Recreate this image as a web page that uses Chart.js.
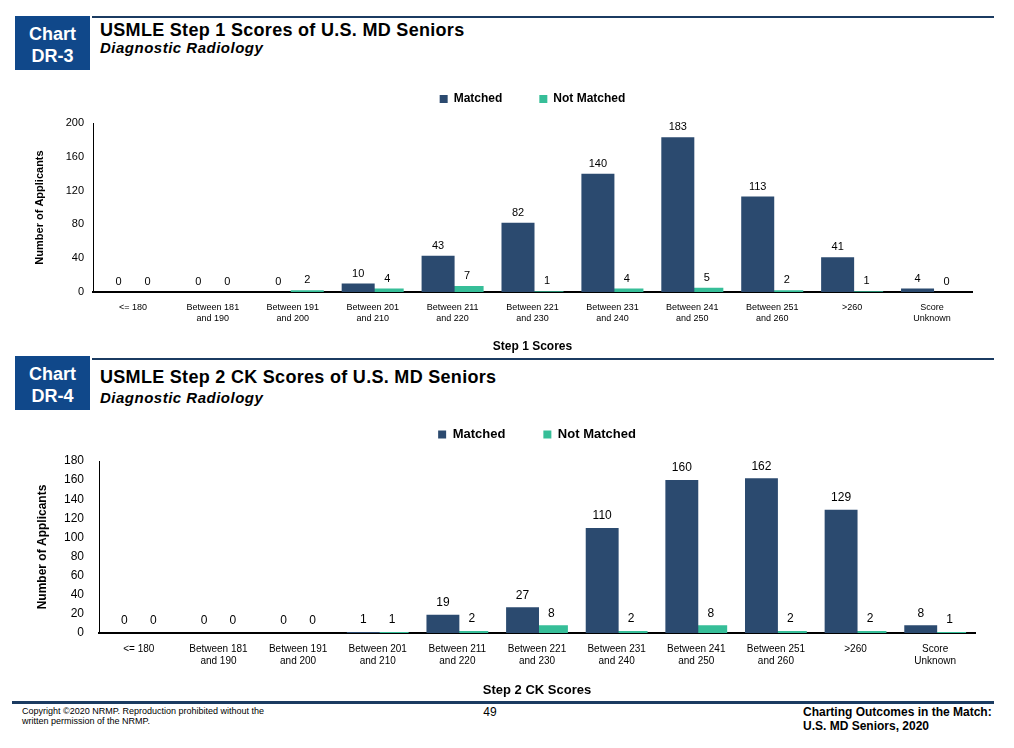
<!DOCTYPE html>
<html>
<head>
<meta charset="utf-8">
<script src="https://cdn.jsdelivr.net/npm/chart.js@4.4.1/dist/chart.umd.min.js"></script>
<style>
  html, body { margin: 0; padding: 0; background: #fff; }
  body { width: 1014px; height: 748px; overflow: hidden; position: relative;
         font-family: "Liberation Sans", Arial, Helvetica, sans-serif; color: #000; }
  .abs { position: absolute; }
  .box { background: #10488A; color: #fff; font-weight: bold; font-size: 18px; line-height: 21.6px;
         text-align: center; width: 75px; height: 54px; box-sizing: border-box; padding-top: 8px; }
  .rule { background: #1B3B61; }
  .title { font-weight: bold; font-size: 18px; line-height: 20px; letter-spacing: 0.3px; white-space: nowrap; }
  .sub { font-weight: bold; font-style: italic; font-size: 15px; line-height: 18px; letter-spacing: 0.5px; white-space: nowrap; }
  .foot { font-size: 9px; line-height: 10px; white-space: nowrap; }
  .footr { font-size: 12px; font-weight: bold; line-height: 14px; white-space: nowrap; }
  .chartwrap { position: absolute; left: 0; width: 1014px; }
</style>
</head>
<body>

<!-- Header 1 -->
<div class="abs box" style="left:15px; top:16px;">Chart<br>DR-3</div>
<div class="abs rule" style="left:92px; top:16px; width:902px; height:2px;"></div>
<div class="abs title" style="left:100px; top:20px;">USMLE Step 1 Scores of U.S. MD Seniors</div>
<div class="abs sub" style="left:100px; top:39px;">Diagnostic Radiology</div>

<div class="chartwrap" style="top:56px; height:299px;"><canvas id="c1"></canvas></div>

<!-- Header 2 -->
<div class="abs box" style="left:15px; top:356px;">Chart<br>DR-4</div>
<div class="abs rule" style="left:92px; top:358px; width:902px; height:2px;"></div>
<div class="abs title" style="left:100px; top:367px;">USMLE Step 2 CK Scores of U.S. MD Seniors</div>
<div class="abs sub" style="left:100px; top:389px;">Diagnostic Radiology</div>

<div class="chartwrap" style="top:390px; height:308px;"><canvas id="c2"></canvas></div>

<!-- Footer -->
<div class="abs rule" style="left:12px; top:701px; width:982px; height:3px;"></div>
<div class="abs foot" style="left:22px; top:706px;">Copyright ©2020 NRMP. Reproduction prohibited without the</div>
<div class="abs foot" style="left:22px; top:716px;">written permission of the NRMP.</div>
<div class="abs" style="left:478px; top:705px; width:24px; text-align:center; font-size:12px; line-height:14px;">49</div>
<div class="abs footr" style="left:803px; top:705px;">Charting Outcomes in the Match:</div>
<div class="abs footr" style="left:803px; top:719px;">U.S. MD Seniors, 2020</div>

<script>
// ---------------- DATA ----------------
const scoreCategories = [
  '<= 180',
  ['Between 181', 'and 190'],
  ['Between 191', 'and 200'],
  ['Between 201', 'and 210'],
  ['Between 211', 'and 220'],
  ['Between 221', 'and 230'],
  ['Between 231', 'and 240'],
  ['Between 241', 'and 250'],
  ['Between 251', 'and 260'],
  '>260',
  ['Score', 'Unknown']
];
const seriesNames = ['Matched', 'Not Matched'];

const step1Matched    = [0, 0, 0, 10, 43, 82, 140, 183, 113, 41, 4];
const step1NotMatched = [0, 0, 2, 4, 7, 1, 4, 5, 2, 1, 0];
const step1AxisMax = 200;
const step1AxisStep = 40;

const step2Matched    = [0, 0, 0, 1, 19, 27, 110, 160, 162, 129, 8];
const step2NotMatched = [0, 0, 0, 1, 2, 8, 2, 8, 2, 2, 1];
const step2AxisMax = 180;
const step2AxisStep = 20;

const step1XTitle = 'Step 1 Scores';
const step2XTitle = 'Step 2 CK Scores';
const yTitle = 'Number of Applicants';

// ---------------- STYLE ----------------
const COLOR_MATCHED = '#2B4A6F';
const COLOR_NOT = '#36BE98';
const FONT = '"Liberation Sans", Arial, Helvetica, sans-serif';

Chart.defaults.font.family = FONT;
Chart.defaults.color = '#000';

const valueLabels = {
  id: 'valueLabels',
  afterDatasetsDraw(chart, args, opts) {
    const ctx = chart.ctx;
    ctx.save();
    ctx.font = opts.size + 'px ' + FONT;
    ctx.fillStyle = '#000';
    ctx.textAlign = 'center';
    ctx.textBaseline = 'middle';
    chart.data.datasets.forEach((ds, i) => {
      const meta = chart.getDatasetMeta(i);
      meta.data.forEach((bar, j) => {
        ctx.fillText(String(ds.data[j]), bar.x, bar.y - opts.offset);
      });
    });
    ctx.restore();
  }
};

function makeChart(id, cfg) {
  return new Chart(document.getElementById(id), {
    type: 'bar',
    data: {
      labels: scoreCategories,
      datasets: [
        { label: seriesNames[0], data: cfg.matched, backgroundColor: COLOR_MATCHED, borderWidth: 0,
          categoryPercentage: 0.726, barPercentage: 1.138 },
        { label: seriesNames[1], data: cfg.notMatched, backgroundColor: COLOR_NOT, borderWidth: 0,
          categoryPercentage: 0.726, barPercentage: 1.138 }
      ]
    },
    plugins: [valueLabels],
    options: {
      responsive: true,
      maintainAspectRatio: false,
      animation: false,
      events: [],
      layout: { padding: { left: 0, right: cfg.padRight, top: 0, bottom: 0 } },
      plugins: {
        legend: {
          position: 'top',
          fullSize: false,
          weight: 1000,
          labels: {
            boxWidth: 8, boxHeight: 8,
            padding: cfg.legendPad,
            color: '#000',
            font: { size: cfg.legendSize, weight: 'bold' }
          }
        },
        title: {
          display: true, text: '', weight: 100, padding: 0,
          font: { size: cfg.spacer, lineHeight: 1 }
        },
        tooltip: { enabled: false },
        valueLabels: { size: cfg.valueSize, offset: cfg.valueOffset }
      },
      scales: {
        x: {
          grid: { display: false, drawTicks: false },
          border: { display: true, color: '#000', width: 2 },
          ticks: { autoSkip: false, maxRotation: 0, minRotation: 0, padding: 10,
                   color: '#000', font: { size: cfg.xTickSize } },
          title: { display: true, text: cfg.xTitle, color: '#000',
                   font: { size: cfg.xTitleSize, weight: 'bold' },
                   padding: { top: 0, bottom: cfg.xTitlePadB } },
          afterFit: s => { s.height = cfg.xHeight; }
        },
        y: {
          min: 0, max: cfg.max,
          grid: { display: false, drawTicks: false },
          border: { display: true, color: '#000', width: 1 },
          ticks: { stepSize: cfg.step, padding: cfg.yTickPad, color: '#000',
                   font: { size: cfg.yTickSize } },
          title: { display: true, text: yTitle, color: '#000',
                   font: { size: cfg.yTitleSize, weight: 'bold' },
                   padding: { top: cfg.yTitlePadT, bottom: 0 } },
          afterFit: s => { s.width = cfg.yWidth; }
        }
      }
    }
  });
}

makeChart('c1', {
  matched: step1Matched, notMatched: step1NotMatched,
  max: step1AxisMax, step: step1AxisStep, xTitle: step1XTitle,
  padRight: 42, legendPad: 37, legendSize: 12, spacer: 8,
  valueSize: 11, valueOffset: 10,
  xTickSize: 9, xTitleSize: 12, xTitlePadB: 1, xHeight: 63,
  yTickPad: 9, yTickSize: 11, yTitleSize: 11, yTitlePadT: 33, yWidth: 93
});

makeChart('c2', {
  matched: step2Matched, notMatched: step2NotMatched,
  max: step2AxisMax, step: step2AxisStep, xTitle: step2XTitle,
  padRight: 39, legendPad: 38, legendSize: 13, spacer: 10,
  valueSize: 12, valueOffset: 12,
  xTickSize: 10, xTitleSize: 13, xTitlePadB: 0, xHeight: 65,
  yTickPad: 15, yTickSize: 12, yTitleSize: 12, yTitlePadT: 35, yWidth: 99
});
</script>
</body>
</html>
